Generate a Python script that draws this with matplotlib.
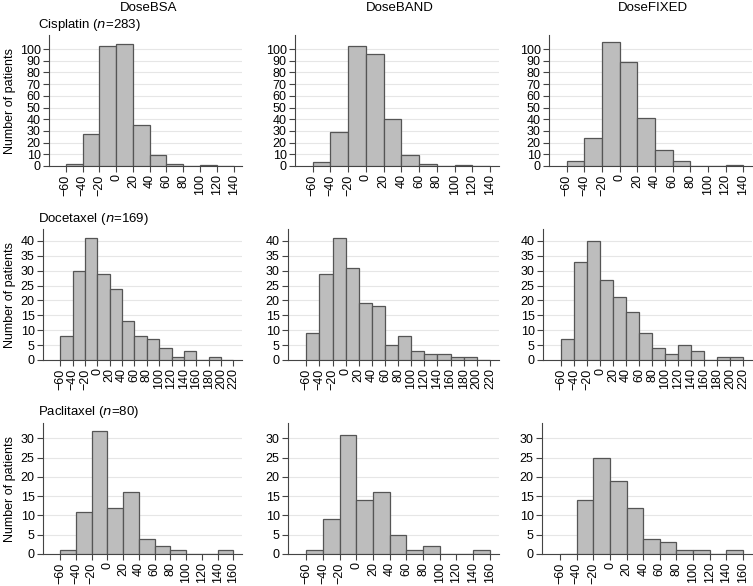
import matplotlib
matplotlib.use('Agg')
import matplotlib.pyplot as plt
import numpy as np

plt.rcParams['font.family'] = ['Liberation Sans', 'DejaVu Sans']

# column headers and row titles
methods = ['DoseBSA', 'DoseBAND', 'DoseFIXED']
drugs = ['Cisplatin', 'Docetaxel', 'Paclitaxel']
n_patients = [283, 169, 80]

# bin edges (percent difference), width 20
bin_start = [-60, -60, -60]
bin_width = 20

# counts per bin, rows = drugs, cols = methods
cisplatin_bsa = [2, 27, 103, 104, 35, 9, 2, 0, 1, 0]
cisplatin_band = [3, 29, 103, 96, 40, 9, 2, 0, 1, 0]
cisplatin_fixed = [4, 24, 106, 89, 41, 14, 4, 0, 0, 1]

docetaxel_bsa = [8, 30, 41, 29, 24, 13, 8, 7, 4, 1, 3, 0, 1, 0]
docetaxel_band = [9, 29, 41, 31, 19, 18, 5, 8, 3, 2, 2, 1, 1, 0]
docetaxel_fixed = [7, 33, 40, 27, 21, 16, 9, 4, 2, 5, 3, 0, 1, 1]

paclitaxel_bsa = [1, 11, 32, 12, 16, 4, 2, 1, 0, 0, 1]
paclitaxel_band = [1, 9, 31, 14, 16, 5, 1, 2, 0, 0, 1]
paclitaxel_fixed = [0, 14, 25, 19, 12, 4, 3, 1, 1, 0, 1]

counts = [
    [cisplatin_bsa, cisplatin_band, cisplatin_fixed],
    [docetaxel_bsa, docetaxel_band, docetaxel_fixed],
    [paclitaxel_bsa, paclitaxel_band, paclitaxel_fixed],
]

# axis settings per row
x_ticks = [np.arange(-60, 141, 20), np.arange(-60, 221, 20), np.arange(-60, 161, 20)]
y_ticks = [np.arange(0, 101, 10), np.arange(0, 41, 5), np.arange(0, 31, 5)]
y_max = [112, 44, 34]

# layout in pixels: (left, right) per column for each row, (top, bottom) per row
W, H = 753, 586
col_px = [
    [(49, 242), (295, 499), (549, 752)],
    [(43, 242), (288, 499), (543, 752)],
    [(43, 242), (288, 499), (542, 752)],
]
row_px = [(35, 166), (229, 360), (423, 554)]
title_y = [25, 219, 412]

fig = plt.figure(figsize=(W / 100, H / 100), dpi=100)

bar_face = '#bdbdbd'
bar_edge = '#555555'
axis_col = '#444444'

for r in range(3):
    for c in range(3):
        x0, x1 = col_px[r][c]
        yt, yb = row_px[r]
        ax = fig.add_axes([x0 / W, 1 - yb / H, (x1 - x0) / W, (yb - yt) / H])

        data = counts[r][c]
        edges = bin_start[r] + bin_width * np.arange(len(data))
        ax.bar(edges, data, width=bin_width, align='edge', color=bar_face,
               edgecolor=bar_edge, linewidth=0.9, zorder=3)

        lo, hi = x_ticks[r][0], x_ticks[r][-1]
        span = hi - lo
        ax.set_xlim(lo - 0.1 * span, hi + 0.05 * span)
        ax.set_ylim(0, y_max[r])
        ax.set_xticks(x_ticks[r])
        ax.set_yticks(y_ticks[r])
        ax.tick_params(axis='x', labelrotation=90, labelsize=9, length=4,
                       width=0.8, color=axis_col, pad=2)
        ax.tick_params(axis='y', labelsize=9, length=4, width=0.8,
                       color=axis_col, pad=2)
        ax.yaxis.grid(True, color='#e6e6e6', linewidth=0.8, zorder=0)
        ax.set_axisbelow(True)
        for s in ['top', 'right']:
            ax.spines[s].set_visible(False)
        for s in ['left', 'bottom']:
            ax.spines[s].set_color(axis_col)
            ax.spines[s].set_linewidth(0.8)

        if c == 0:
            ax.set_ylabel('Number of patients', fontsize=9, labelpad=3)

    fig.text(38 / W, 1 - title_y[r] / H,
             drugs[r] + r' ($\mathit{n}$=' + str(n_patients[r]) + ')',
             fontsize=9.5, ha='left', va='center')

header_x = [149, 400, 653]
for c in range(3):
    fig.text(header_x[c] / W, 1 - 8 / H, methods[c], fontsize=9.5,
             ha='center', va='center')

fig.savefig('out.png', dpi=100)
